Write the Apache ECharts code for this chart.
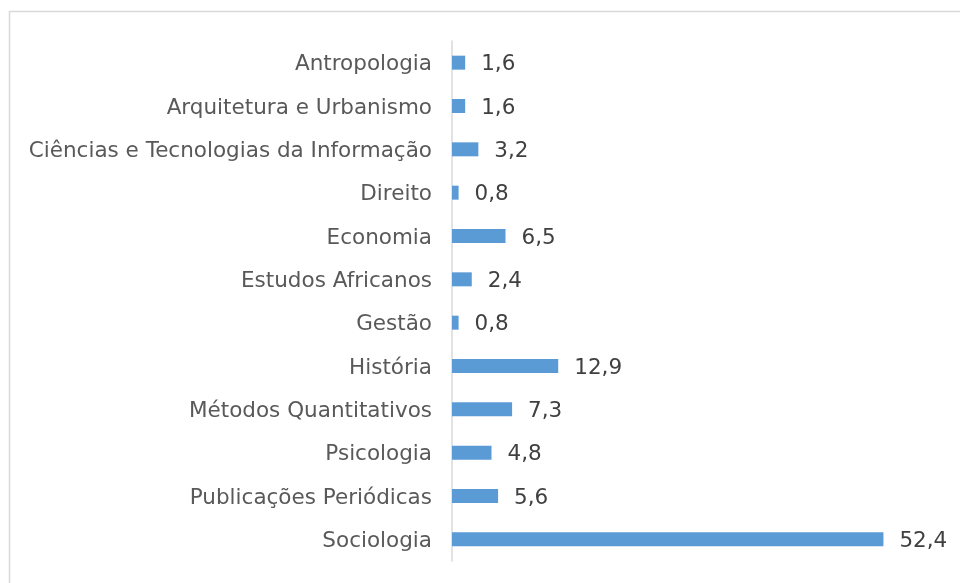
<!DOCTYPE html>
<html><head><meta charset="utf-8">
<script src="https://cdn.jsdelivr.net/npm/echarts@6/dist/echarts.min.js"></script>
<style>html,body{margin:0;padding:0;background:#fff}#c{width:960px;height:583px}</style>
</head><body><div id="c"></div>
<script>
const categories = ["Antropologia","Arquitetura e Urbanismo","Ciências e Tecnologias da Informação","Direito","Economia","Estudos Africanos","Gestão","História","Métodos Quantitativos","Psicologia","Publicações Periódicas","Sociologia"];
const values = [1.6,1.6,3.2,0.8,6.5,2.4,0.8,12.9,7.3,4.8,5.6,52.4];

const chart = echarts.init(document.getElementById('c'), null, {renderer:'canvas'});
const font = 'DejaVu Sans, Verdana, sans-serif';
chart.setOption({
  animation:false,
  graphic:[{type:'rect', shape:{x:9.5,y:11.5,width:1000,height:1000}, style:{fill:null, stroke:'#d9d9d9', lineWidth:1.5}, silent:true}],
  grid:{left:452, top:41, width:494, height:520, containLabel:false},
  xAxis:{type:'value', min:0, max:60, show:false},
  yAxis:{type:'category', data:categories, inverse:true,
    axisLine:{show:true, lineStyle:{color:'#d9d9d9', width:1.5}},
    axisTick:{show:false},
    axisLabel:{margin:20, formatter:v=>'{a|'+v+'}',
      rich:{a:{color:'#595959', fontFamily:font, fontSize:21.5, padding:[4,0,0,0]}}}},
  series:[{type:'bar', data:values, barWidth:14, itemStyle:{color:'#5B9BD5'},
    label:{show:true, position:'right', distance:16,
      formatter:p=>'{a|'+String(p.value).replace('.',',')+'}',
      rich:{a:{color:'#404040', fontFamily:font, fontSize:21.5, padding:[4,0,0,0]}}}}]
});
</script></body></html>
